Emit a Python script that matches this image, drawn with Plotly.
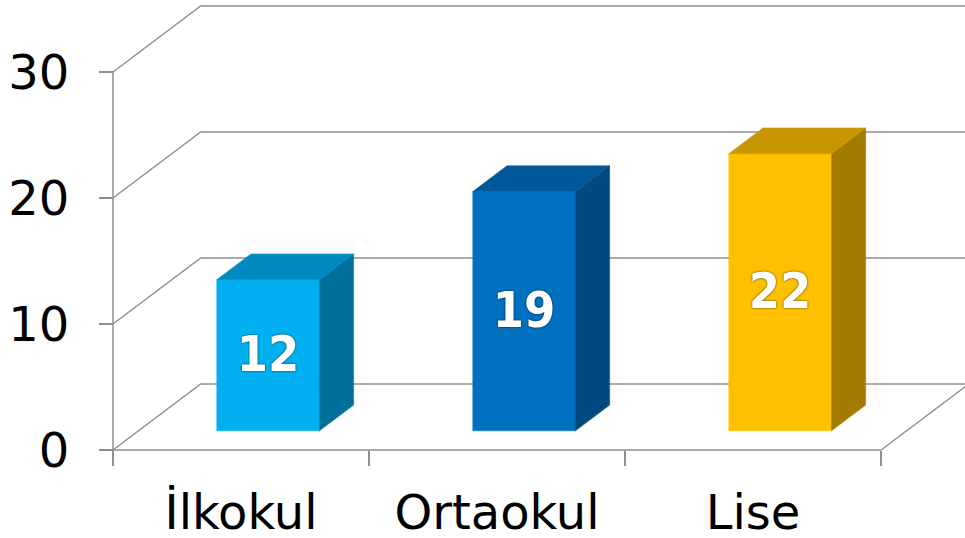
import plotly.graph_objects as go

# ---- data ----
categories = ["İlkokul", "Ortaokul", "Lise"]
values = [12, 19, 22]
y_ticks = [0, 10, 20, 30]

# ---- style ----
front_cols = ["#00B0F0", "#0070C0", "#FFC000"]
top_cols = ["#008ABF", "#005899", "#C79600"]
side_cols = ["#006F9A", "#004A80", "#A37B00"]
grid_col = "#8F8F8F"
FONT = "DejaVu Sans"

# oblique projection (data units): full depth offset
DX, DY = 0.3426, 5.238
F0, FD = 0.29, 0.39          # bar front depth fraction, bar depth fraction
GAP, BW = 0.306, 0.401       # bar position within category, bar width
LABEL_DROP = 0.25            # small downward nudge of value labels (data units)

X_RANGE = [-0.0898, 3.328]
Y_RANGE = [-1.984, 35.714]
XEXT = 4.0

fig = go.Figure()

def line(xs, ys):
    fig.add_trace(go.Scatter(x=xs, y=ys, mode="lines",
                             line=dict(color=grid_col, width=1.5),
                             hoverinfo="skip", showlegend=False))

def poly(xs, ys, col):
    fig.add_trace(go.Scatter(x=xs + [xs[0]], y=ys + [ys[0]], mode="lines",
                             fill="toself", fillcolor=col,
                             line=dict(color=col, width=0.5),
                             hoverinfo="skip", showlegend=False))

n = len(categories)
# back wall gridlines
for v in y_ticks:
    line([0, DX, XEXT], [v, v + DY, v + DY])
# front axis line, floor front edge, floor right edge
line([0, 0], [0, y_ticks[-1]])
line([0, n], [0, 0])
line([n, n + DX * 3], [0, DY * 3])

# bars
ox, oy = F0 * DX, F0 * DY
sdx, sdy = FD * DX, FD * DY
lx, ly = [], []
for i, v in enumerate(values):
    x0 = i + GAP + ox
    x1 = x0 + BW
    b = oy
    t = oy + v
    poly([x0, x1, x1, x0], [b, b, t, t], front_cols[i])
    poly([x1, x1 + sdx, x1 + sdx, x1], [b, b + sdy, t + sdy, t], side_cols[i])
    poly([x0, x1, x1 + sdx, x0 + sdx], [t, t, t + sdy, t + sdy], top_cols[i])
    lx.append((x0 + x1) / 2)
    ly.append((b + t) / 2 - LABEL_DROP)

fig.add_trace(go.Scatter(
    x=lx, y=ly, mode="text", text=[str(v) for v in values],
    textposition="middle center",
    textfont=dict(family="DejaVu Sans Condensed", size=50, color="white",
                  weight="bold",
                  shadow="0px 0px 2px rgba(0,0,0,0.9)"),
    hoverinfo="skip", showlegend=False, cliponaxis=False))

W, H = 965, 538
L, B = 90, 63
fig.update_layout(
    width=W, height=H,
    margin=dict(l=L, r=0, t=0, b=B, pad=0, autoexpand=False),
    paper_bgcolor="white", plot_bgcolor="white",
    showlegend=False,
    xaxis=dict(range=X_RANGE, showgrid=False, zeroline=False, showline=False,
               automargin=False, fixedrange=True,
               anchor="free", position=25 / (H - B),
               tickmode="array", tickvals=[i + 0.5 for i in range(n)],
               ticktext=categories, ticks="outside", ticklen=0,
               tickfont=dict(family=FONT, size=48, color="black"),
               ticklabelstandoff=20,
               minor=dict(tickmode="array", tickvals=list(range(n + 1)),
                          ticks="outside", ticklen=15, tickwidth=1.5,
                          tickcolor=grid_col, showgrid=False)),
    yaxis=dict(range=Y_RANGE, showgrid=False, zeroline=False, showline=False,
               automargin=False, fixedrange=True,
               anchor="free", position=(113 - L) / (W - L),
               tickmode="array", tickvals=y_ticks, ticks="outside",
               ticklen=14, tickwidth=1.5, tickcolor=grid_col,
               tickfont=dict(family=FONT, size=48, color="black"),
               ticklabelstandoff=20),
)

fig.write_html("out.html",
               config={"displayModeBar": False, "staticPlot": True},
               post_script="document.body.style.margin='0';"
                           "document.body.style.overflow='hidden';")
